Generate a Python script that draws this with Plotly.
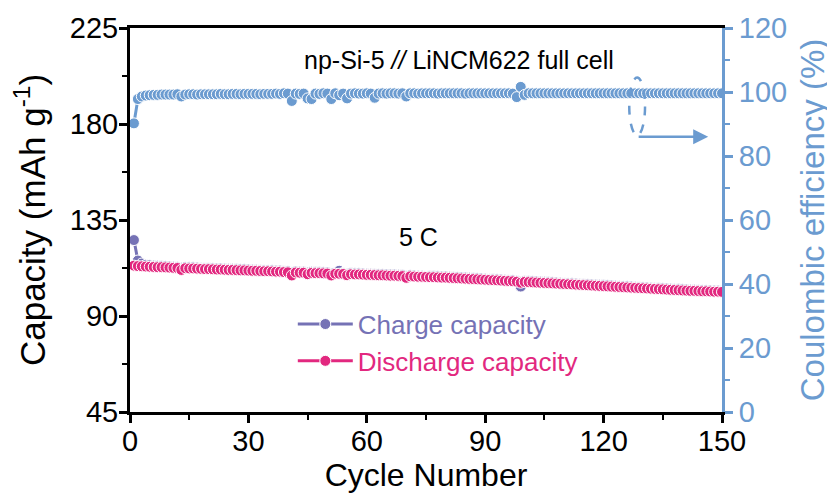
import plotly.graph_objects as go

cycles = list(range(1, 151))

discharge = [
    113.6, 113.4, 113.3, 113.2, 113.1, 113.0, 112.9, 112.9, 112.8, 112.7,
    112.6, 112.5, 111.6, 112.4, 112.3, 112.3, 112.2, 112.1, 112.0, 112.0,
    111.9, 111.8, 111.8, 111.7, 111.6, 111.6, 111.5, 111.4, 111.4, 111.3,
    111.2, 111.2, 111.1, 111.0, 111.0, 110.9, 110.8, 110.8, 110.6, 110.5,
    109.0, 110.4, 110.3, 110.3, 109.6, 110.2, 110.1, 110.1, 110.0, 109.9,
    109.0, 109.8, 109.8, 109.7, 109.1, 109.6, 109.5, 109.5, 109.4, 109.3,
    109.3, 109.2, 109.1, 109.1, 109.0, 108.9, 108.9, 108.8, 108.7, 107.9,
    108.6, 108.5, 108.4, 108.4, 108.3, 108.2, 108.2, 108.1, 108.0, 108.0,
    107.9, 107.8, 107.7, 107.6, 107.5, 107.4, 107.3, 107.2, 107.1, 107.0,
    106.9, 106.8, 106.7, 106.6, 106.5, 106.4, 106.3, 106.1, 105.6, 106.0,
    105.9, 105.8, 105.7, 105.6, 105.5, 105.4, 105.3, 105.2, 105.1, 105.0,
    104.9, 104.8, 104.7, 104.6, 104.5, 104.4, 104.3, 104.2, 104.1, 104.0,
    103.9, 103.8, 103.7, 103.6, 103.5, 103.4, 103.3, 103.2, 103.1, 103.0,
    102.9, 102.8, 102.7, 102.6, 102.5, 102.4, 102.3, 102.2, 102.1, 102.0,
    101.9, 101.8, 101.8, 101.7, 101.6, 101.6, 101.5, 101.4, 101.4, 101.3,
]

charge = [
    125.6, 116.0, 114.6, 114.0, 113.8, 113.6, 113.5, 113.4, 113.3, 113.2,
    113.1, 113.0, 112.6, 112.9, 112.8, 112.8, 112.7, 112.6, 112.5, 112.5,
    112.4, 112.3, 112.3, 112.2, 112.1, 112.1, 112.0, 111.9, 111.9, 111.8,
    111.7, 111.7, 111.6, 111.5, 111.5, 111.4, 111.3, 111.3, 111.1, 111.0,
    110.2, 110.9, 110.8, 110.8, 110.3, 110.7, 110.6, 110.6, 110.5, 110.4,
    109.8, 110.3, 111.2, 110.2, 109.8, 110.1, 110.0, 110.0, 109.9, 109.8,
    109.8, 109.7, 109.6, 109.6, 109.5, 109.4, 109.4, 109.3, 109.2, 108.6,
    109.1, 109.0, 108.9, 108.9, 108.8, 108.7, 108.7, 108.6, 108.5, 108.5,
    108.4, 108.3, 108.2, 108.1, 108.0, 107.9, 107.8, 107.7, 107.6, 107.5,
    107.4, 107.3, 107.2, 107.1, 107.0, 106.9, 106.8, 106.5, 103.8, 106.4,
    106.4, 106.3, 106.2, 106.1, 106.0, 105.9, 105.8, 105.7, 105.6, 105.5,
    105.4, 105.3, 105.2, 105.1, 105.0, 104.9, 104.8, 104.7, 104.6, 104.5,
    104.4, 104.3, 104.2, 104.1, 104.0, 103.9, 103.8, 103.7, 103.6, 103.5,
    103.4, 103.3, 103.2, 103.1, 103.0, 102.9, 102.8, 102.7, 102.6, 102.5,
    102.4, 102.3, 102.3, 102.2, 102.1, 102.1, 102.0, 101.9, 101.9, 101.8,
]

efficiency = [
    90.2, 97.8, 98.6, 98.9, 99.0, 99.1, 99.1, 99.2, 99.2, 99.2,
    99.2, 99.3, 98.6, 99.2, 99.3, 99.3, 99.2, 99.3, 99.3, 99.3,
    99.3, 99.3, 99.4, 99.3, 99.3, 99.4, 99.4, 99.3, 99.4, 99.4,
    99.4, 99.4, 99.3, 99.4, 99.4, 99.4, 99.5, 99.4, 99.6, 99.5,
    97.2, 99.5, 99.4, 99.5, 98.0, 97.8, 99.5, 99.4, 99.6, 99.5,
    97.8, 99.6, 99.0, 99.5, 98.0, 99.5, 99.6, 99.5, 99.5, 99.6,
    99.5, 98.2, 99.5, 99.6, 99.5, 99.6, 99.6, 99.5, 99.6, 98.6,
    99.6, 99.6, 99.5, 99.6, 99.6, 99.6, 99.6, 99.5, 99.6, 99.6,
    99.6, 99.6, 99.6, 99.6, 99.5, 99.6, 99.6, 99.6, 99.6, 99.6,
    99.6, 99.6, 99.6, 99.6, 99.6, 99.6, 99.5, 98.4, 101.6, 99.1,
    99.6, 99.6, 99.6, 99.6, 99.6, 99.6, 99.6, 99.6, 99.6, 99.6,
    99.6, 99.6, 99.6, 99.6, 99.6, 99.6, 99.6, 99.6, 99.6, 99.6,
    99.6, 99.6, 99.6, 99.6, 99.6, 99.6, 99.6, 99.6, 99.6, 99.6,
    99.6, 99.6, 99.6, 99.6, 99.6, 99.6, 99.6, 99.6, 99.6, 99.6,
    99.6, 99.6, 99.6, 99.6, 99.6, 99.6, 99.6, 99.6, 99.6, 99.6,
]

x_ticks = [0, 30, 60, 90, 120, 150]
left_ticks = [45, 90, 135, 180, 225]
right_ticks = [0, 20, 40, 60, 80, 100, 120]

PURPLE = "#7572b5"
PINK = "#e2287f"
BLUE = "#6b9bd0"
FONT = "Liberation Sans, Arial, sans-serif"
TICK = 29

fig = go.Figure()

fig.add_trace(go.Scatter(
    x=cycles, y=charge, mode="lines+markers",
    name=f"<span style='color:{PURPLE}'>Charge capacity</span>",
    line=dict(color=PURPLE, width=3),
    marker=dict(symbol="circle", size=11, color=PURPLE, line=dict(color="white", width=1)),
))
fig.add_trace(go.Scatter(
    x=cycles, y=discharge, mode="lines+markers",
    name=f"<span style='color:{PINK}'>Discharge capacity</span>",
    line=dict(color=PINK, width=3),
    marker=dict(symbol="circle", size=11, color=PINK, line=dict(color="white", width=1)),
))
fig.add_trace(go.Scatter(
    x=cycles, y=efficiency, mode="lines+markers", yaxis="y2",
    showlegend=False,
    line=dict(color=BLUE, width=3),
    marker=dict(symbol="circle", size=11, color=BLUE, line=dict(color="white", width=1)),
))

fig.update_layout(
    width=827, height=489,
    margin=dict(l=122, r=113, t=20, b=85, autoexpand=False),
    paper_bgcolor="white", plot_bgcolor="white",
    font=dict(family=FONT, size=24, color="black"),
    xaxis=dict(
        range=[0, 150], tickvals=x_ticks, ticktext=[str(v) for v in x_ticks],
        showline=True, linecolor="black", linewidth=3, mirror=True,
        ticks="outside", ticklen=8, tickwidth=2.5, tickcolor="black",
        minor=dict(dtick=15, ticks="outside", ticklen=5, tickwidth=2, tickcolor="black"),
        showgrid=False, zeroline=False, automargin=True,
        ticklabelstandoff=-7,
        tickfont=dict(size=TICK, color="black"),
        title=dict(text="Cycle Number", font=dict(size=32, color="black"), standoff=0),
    ),
    yaxis=dict(
        range=[45, 225], tickvals=left_ticks, ticktext=[str(v) for v in left_ticks],
        showline=True, linecolor="black", linewidth=3,
        ticks="outside", ticklen=8, tickwidth=2.5, tickcolor="black",
        minor=dict(dtick=22.5, ticks="outside", ticklen=5, tickwidth=2, tickcolor="black"),
        showgrid=False, zeroline=False, automargin=False,
        ticklabelstandoff=-5,
        tickfont=dict(size=TICK, color="black"),
        title=dict(text="Capacity (mAh g<sup>-1</sup>)", font=dict(size=35, color="black")),
    ),
    yaxis2=dict(
        range=[0, 120], tickvals=right_ticks, ticktext=[str(v) for v in right_ticks],
        overlaying="y", side="right",
        showline=True, linecolor=BLUE, linewidth=3,
        ticks="outside", ticklen=8, tickwidth=2.5, tickcolor=BLUE,
        minor=dict(dtick=10, ticks="outside", ticklen=5, tickwidth=2, tickcolor=BLUE),
        showgrid=False, zeroline=False, automargin=False,
        tickfont=dict(size=TICK, color=BLUE),
        title=dict(text="Coulombic efficiency (%)", font=dict(size=33, color=BLUE)),
    ),
    legend=dict(
        x=0.275, y=0.29, xanchor="left", yanchor="top",
        bgcolor="rgba(0,0,0,0)", font=dict(size=26),
        itemwidth=55, tracegroupgap=0,
    ),
    showlegend=True,
)

fig.add_annotation(
    x=0.555, y=0.917, xref="paper", yref="paper",
    text="np-Si-5 <i>//</i> LiNCM622 full cell", showarrow=False,
    font=dict(size=25, color="black"), xanchor="center", yanchor="middle",
)
fig.add_annotation(
    x=0.488, y=0.456, xref="paper", yref="paper",
    text="5 C", showarrow=False,
    font=dict(size=25, color="black"), xanchor="center", yanchor="middle",
)

# dashed ellipse marking the efficiency curve and arrow to the right axis
fig.add_shape(
    type="circle", xref="x", yref="y2",
    x0=126.5, x1=130.5, y0=86.5, y1=104.5,
    line=dict(color=BLUE, width=2.5, dash="dash"),
)
fig.add_annotation(
    x=146.5, y=86, xref="x", yref="y2",
    ax=128.5, ay=86, axref="x", ayref="y2",
    text="", showarrow=True, arrowhead=2, arrowsize=1.2,
    arrowwidth=2.5, arrowcolor=BLUE,
)

fig.write_html("out.html")
